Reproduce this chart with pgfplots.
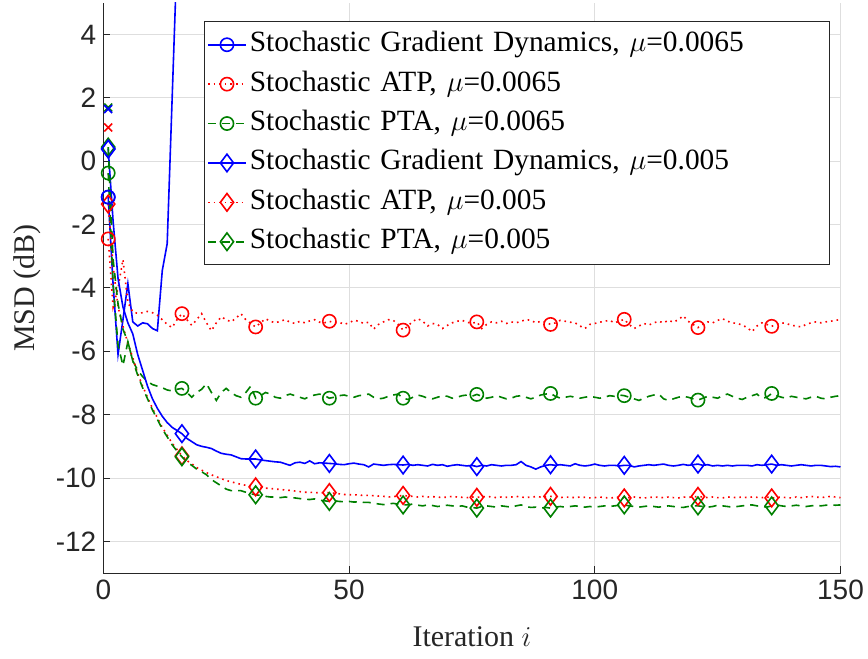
\documentclass[border=0pt]{standalone}
\usepackage{pgfplots}
\usepackage{pgfplotstable}
\pgfplotsset{compat=1.18}
\usepackage{fontspec}
\setmainfont{Liberation Serif}
\newfontfamily\ticksf{Liberation Sans}
\definecolor{mgreen}{rgb}{0,0.5,0}
\definecolor{axgray}{rgb}{0.15,0.15,0.15}

\pgfplotstableread{
i B C D E F
1 -2.45 -0.37 0.39 -1.35 0.45
2 -4.6 -3.9 -1.9 -3.3 -3.1
3 -4.0 -5.8 -3.7 -4.6 -4.5
4 -3.1 -6.45 -4.6 -5.2 -5.3
5 -4.45 -5.7 -5.1 -5.75 -5.7
6 -4.76 -6.3 -5.45 -6.2 -6.3
7 -4.8 -6.6 -6.1 -6.7 -6.75
8 -4.78 -6.8 -6.6 -7.1 -7.15
9 -4.74 -6.95 -7.1 -7.45 -7.5
10 -4.78 -7.05 -7.5 -7.8 -7.85
11 -4.86 -7.1 -7.8 -8.1 -8.15
12 -5.0 -7.15 -8.05 -8.4 -8.45
13 -5.15 -7.22 -8.25 -8.65 -8.7
14 -5.25 -7.25 -8.4 -8.9 -8.95
15 -5.0 -7.2 -8.5 -9.1 -9.15
16 -4.81 -7.17 -8.6 -9.3 -9.33
17 -5.0 -7.3 -8.75 -9.45 -9.5
18 -5.18 -7.45 -8.85 -9.55 -9.6
19 -5.0 -7.3 -8.95 -9.67 -9.72
20 -4.81 -7.2 -9.0 -9.75 -9.8
21 -5.1 -7.02 -9.03 -9.83 -9.9
22 -5.35 -7.3 -9.07 -9.9 -10.05
23 -5.1 -7.55 -9.15 -9.96 -10.15
24 -4.91 -7.3 -9.22 -10.02 -10.25
25 -5.0 -7.17 -9.25 -10.08 -10.35
26 -5.07 -7.3 -9.27 -10.12 -10.4
27 -4.95 -7.4 -9.33 -10.16 -10.4
28 -4.81 -7.45 -9.39 -10.2 -10.4
29 -5.0 -7.3 -9.4 -10.23 -10.45
30 -5.12 -7.1 -9.4 -10.25 -10.5
31 -5.23 -7.48 -9.4 -10.28 -10.53
32 -5.1 -7.4 -9.43 -10.3 -10.55
33 -4.97 -7.3 -9.45 -10.32 -10.58
34 -5.05 -7.35 -9.47 -10.33 -10.6
35 -5.1 -7.45 -9.49 -10.35 -10.6
36 -5.05 -7.48 -9.5 -10.36 -10.62
37 -5.0 -7.4 -9.55 -10.38 -10.6
38 -5.08 -7.35 -9.6 -10.39 -10.62
39 -5.12 -7.4 -9.52 -10.41 -10.63
40 -5.05 -7.45 -9.5 -10.43 -10.65
41 -5.1 -7.5 -9.54 -10.45 -10.67
42 -5.04 -7.42 -9.46 -10.45 -10.68
43 -5.0 -7.38 -9.55 -10.46 -10.66
44 -5.08 -7.35 -9.52 -10.47 -10.7
45 -5.1 -7.4 -9.53 -10.46 -10.72
46 -5.05 -7.48 -9.54 -10.46 -10.74
47 -5.1 -7.45 -9.55 -10.48 -10.72
48 -5.08 -7.4 -9.57 -10.5 -10.74
49 -5.15 -7.38 -9.58 -10.52 -10.75
50 -5.1 -7.42 -9.55 -10.53 -10.74
51 -5.02 -7.45 -9.53 -10.53 -10.76
52 -5.05 -7.4 -9.56 -10.54 -10.75
53 -5.12 -7.38 -9.58 -10.55 -10.77
54 -5.08 -7.35 -9.65 -10.55 -10.77
55 -5.3 -7.45 -9.56 -10.56 -10.8
56 -5.15 -7.5 -9.58 -10.57 -10.82
57 -5.07 -7.48 -9.6 -10.58 -10.84
58 -5.0 -7.42 -9.58 -10.6 -10.82
59 -5.02 -7.38 -9.57 -10.59 -10.8
60 -5.15 -7.35 -9.58 -10.57 -10.83
61 -5.33 -7.48 -9.59 -10.55 -10.85
62 -5.2 -7.52 -9.57 -10.57 -10.85
63 -5.05 -7.45 -9.6 -10.58 -10.82
64 -4.97 -7.38 -9.58 -10.6 -10.86
65 -5.05 -7.42 -9.6 -10.58 -10.88
66 -5.2 -7.48 -9.62 -10.6 -10.85
67 -5.12 -7.5 -9.57 -10.59 -10.87
68 -5.15 -7.45 -9.6 -10.6 -10.9
69 -5.28 -7.4 -9.58 -10.62 -10.88
70 -5.18 -7.42 -9.63 -10.6 -10.86
71 -5.1 -7.48 -9.6 -10.58 -10.88
72 -5.05 -7.45 -9.58 -10.6 -10.9
73 -5.02 -7.4 -9.6 -10.61 -10.88
74 -5.08 -7.38 -9.62 -10.62 -10.92
75 -5.12 -7.42 -9.6 -10.6 -10.93
76 -5.07 -7.36 -9.64 -10.61 -10.95
77 -5.28 -7.42 -9.6 -10.6 -10.9
78 -5.15 -7.48 -9.62 -10.58 -10.88
79 -5.07 -7.45 -9.58 -10.6 -10.9
80 -5.1 -7.4 -9.6 -10.62 -10.92
81 -5.05 -7.45 -9.62 -10.6 -10.88
82 -5.12 -7.5 -9.6 -10.61 -10.9
83 -5.07 -7.48 -9.6 -10.6 -10.92
84 -5.1 -7.42 -9.58 -10.58 -10.88
85 -5.05 -7.4 -9.48 -10.6 -10.85
86 -5.0 -7.45 -9.6 -10.62 -10.9
87 -5.02 -7.5 -9.65 -10.6 -10.93
88 -5.1 -7.45 -9.72 -10.59 -10.92
89 -5.05 -7.38 -9.65 -10.6 -10.95
90 -5.08 -7.35 -9.6 -10.6 -10.93
91 -5.15 -7.33 -9.58 -10.58 -10.95
92 -5.1 -7.42 -9.6 -10.6 -10.92
93 -5.02 -7.48 -9.58 -10.62 -10.9
94 -5.05 -7.45 -9.6 -10.6 -10.92
95 -5.08 -7.42 -9.62 -10.61 -10.9
96 -5.1 -7.45 -9.55 -10.62 -10.88
97 -5.2 -7.48 -9.6 -10.6 -10.9
98 -5.28 -7.45 -9.62 -10.61 -10.92
99 -5.15 -7.42 -9.6 -10.63 -10.9
100 -5.12 -7.45 -9.56 -10.62 -10.92
101 -5.08 -7.48 -9.6 -10.6 -10.9
102 -5.05 -7.45 -9.62 -10.62 -10.88
103 -5.02 -7.4 -9.6 -10.63 -10.9
104 -5.1 -7.42 -9.6 -10.62 -10.88
105 -5.05 -7.38 -9.62 -10.6 -10.86
106 -4.99 -7.4 -9.6 -10.63 -10.85
107 -5.15 -7.45 -9.6 -10.62 -10.88
108 -5.28 -7.5 -9.65 -10.6 -10.9
109 -5.2 -7.55 -9.62 -10.62 -10.92
110 -5.12 -7.48 -9.6 -10.63 -10.9
111 -5.17 -7.42 -9.58 -10.62 -10.88
112 -5.1 -7.38 -9.6 -10.6 -10.9
113 -5.05 -7.35 -9.58 -10.61 -10.92
114 -5.1 -7.5 -9.56 -10.62 -10.9
115 -5.02 -7.55 -9.6 -10.6 -10.88
116 -5.08 -7.5 -9.62 -10.62 -10.9
117 -5.0 -7.45 -9.6 -10.63 -10.92
118 -4.88 -7.42 -9.57 -10.6 -10.93
119 -5.05 -7.45 -9.6 -10.61 -10.9
120 -5.15 -7.5 -9.58 -10.6 -10.88
121 -5.25 -7.54 -9.56 -10.58 -10.88
122 -5.15 -7.48 -9.6 -10.6 -10.9
123 -5.07 -7.42 -9.58 -10.62 -10.92
124 -5.1 -7.45 -9.62 -10.6 -10.9
125 -5.02 -7.48 -9.6 -10.62 -10.86
126 -4.97 -7.4 -9.62 -10.63 -10.88
127 -5.05 -7.35 -9.6 -10.6 -10.9
128 -5.1 -7.42 -9.62 -10.61 -10.92
129 -5.12 -7.48 -9.6 -10.62 -10.9
130 -5.17 -7.52 -9.6 -10.6 -10.88
131 -5.25 -7.45 -9.6 -10.62 -10.86
132 -5.38 -7.4 -9.62 -10.6 -10.85
133 -5.2 -7.35 -9.58 -10.61 -10.88
134 -5.1 -7.48 -9.6 -10.62 -10.9
135 -5.15 -7.45 -9.58 -10.6 -10.92
136 -5.21 -7.33 -9.56 -10.63 -10.88
137 -5.15 -7.4 -9.6 -10.62 -10.85
138 -5.1 -7.45 -9.58 -10.6 -10.88
139 -5.12 -7.48 -9.6 -10.62 -10.9
140 -5.18 -7.42 -9.62 -10.63 -10.88
141 -5.2 -7.45 -9.6 -10.6 -10.86
142 -5.23 -7.48 -9.58 -10.62 -10.88
143 -5.15 -7.5 -9.6 -10.6 -10.9
144 -5.1 -7.45 -9.62 -10.58 -10.88
145 -5.07 -7.42 -9.6 -10.6 -10.86
146 -5.1 -7.48 -9.6 -10.62 -10.88
147 -5.07 -7.5 -9.62 -10.6 -10.86
148 -5.05 -7.45 -9.64 -10.58 -10.85
149 -5.02 -7.42 -9.63 -10.6 -10.86
150 -5.0 -7.4 -9.65 -10.62 -10.85
}\msd

\begin{document}
\begin{tikzpicture}
\begin{axis}[
  scale only axis,
  width=368.6pt, height=285pt,
  xmin=0, xmax=150, ymin=-13, ymax=5,
  xtick={0,50,100,150},
  ytick={-12,-10,-8,-6,-4,-2,0,2,4},
  axis x line*=bottom, axis y line*=left,
  axis line style={axgray, line width=0.5pt},
  tick align=inside, major tick length=3.5pt,
  tick style={axgray, line width=0.5pt},
  grid=major,
  major grid style={black!13, line width=0.5pt},
  /pgf/number format/assume math mode=true,
  tick label style={font=\ticksf\fontsize{14}{14}\selectfont, text=axgray},
  xlabel={Iteration $i$},
  ylabel={MSD (dB)},
  every axis x label/.style={at={(axis description cs:0.5,-0.112)}, anchor=center, font=\fontsize{15}{15}\selectfont, text=axgray},
  every axis y label/.style={at={(axis description cs:-0.103,0.5)}, rotate=90, anchor=center, font=\fontsize{15}{15}\selectfont, text=axgray},
  legend style={at={(rel axis cs:0.986,0.968)}, anchor=north east,
    draw=axgray, line width=0.4pt, fill=white,
    font=\fontsize{14.7}{14.7}\selectfont,
    row sep=2.6pt, inner xsep=1.5pt, inner ysep=3pt,
    nodes={text width=287pt, align=left, text height=10.5pt, text depth=3.6pt, inner sep=1.5pt}},
  legend cell align=left,
  legend image code/.code={\draw[mark repeat=2,mark phase=2] plot coordinates {(0pt,0pt) (9.5pt,0pt) (19pt,0pt)};},
  every axis plot/.append style={line width=0.8pt, mark repeat=15, mark phase=1},
]
\addplot[blue, solid, mark=o, mark size=3.3pt, mark options={solid}] coordinates {
(1,-1.13) (2,-3.9) (3,-6.1) (4,-5.0) (5,-3.86) (6,-5.07) (7,-5.2) (8,-5.1) (9,-5.13) (10,-5.28) (11,-5.35) (12,-3.45) (13,-2.6) (14,1.95) (15,6.5)};
\addlegendentry{Stochastic Gradient Dynamics, $\mu$=0.0065}
\addplot[red, dotted, mark=o, mark size=3.3pt, mark options={solid}] table[x=i, y=B] {\msd};
\addlegendentry{Stochastic ATP, $\mu$=0.0065}
\addplot[mgreen, dash pattern=on 4pt off 3pt, mark=o, mark size=3.3pt, mark options={solid}] table[x=i, y=C] {\msd};
\addlegendentry{Stochastic PTA, $\mu$=0.0065}
\addplot[blue, solid, mark=diamond, mark size=4.4pt, mark options={solid}] table[x=i, y=D] {\msd};
\addlegendentry{Stochastic Gradient Dynamics, $\mu$=0.005}
\addplot[red, dotted, mark=diamond, mark size=4.4pt, mark options={solid}] table[x=i, y=E] {\msd};
\addlegendentry{Stochastic ATP, $\mu$=0.005}
\addplot[mgreen, dash pattern=on 4pt off 3pt, mark=diamond, mark size=4.4pt, mark options={solid}] table[x=i, y=F] {\msd};
\addlegendentry{Stochastic PTA, $\mu$=0.005}
\addplot[blue, only marks, mark=diamond, mark size=4.4pt, line width=0.8pt, forget plot] coordinates {(1,0.39)};
\addplot[blue, only marks, mark=o, mark size=3.3pt, line width=0.8pt, forget plot] coordinates {(1,-1.13)};
\addplot[mgreen, only marks, mark=x, mark size=2.8pt, forget plot] coordinates {(1,1.7)};
\addplot[red, only marks, mark=x, mark size=2.8pt, forget plot] coordinates {(1,1.07)};
\addplot[blue, only marks, mark=x, mark size=2.8pt, forget plot] coordinates {(1,1.65)};
\end{axis}
\pgfresetboundingbox
\path[use as bounding box] (-51.65pt,-43pt) rectangle (382.35pt,286.5pt);
\end{tikzpicture}
\end{document}
